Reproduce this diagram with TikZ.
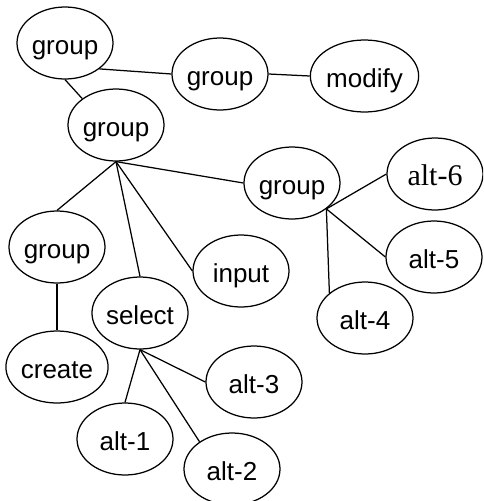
\documentclass[tikz,border=0pt]{standalone}
\usepackage{fontspec}
\setmainfont{Liberation Sans}
\newfontfamily\timesalt{Liberation Serif}
\usetikzlibrary{shapes.geometric}
\tikzset{
  oval/.style={ellipse, draw, line width=1.25pt, minimum width=96pt, minimum height=72pt,
    inner sep=0pt, text height=28pt, text depth=6pt,
    font=\fontsize{26}{30}\selectfont},
  ovalserif/.style={oval, font=\timesalt\fontsize{30}{34}\selectfont},
  link/.style={line width=1.25pt}
}
\begin{document}
\begin{tikzpicture}[x=1pt,y=-1pt]
  \useasboundingbox (0,0) rectangle (483,501);
  \clip (0,0) rectangle (483,501);
  % nodes
  \node[oval] (g1)  at (65,43)    {group};
  \node[oval] (g2)  at (220,74)   {group};
  \node[oval, minimum width=97pt] (mod) at (364.5,76) {modify};
  \node[oval] (g3)  at (116,125)  {group};
  \node[oval] (g4)  at (292,183)  {group};
  \node[ovalserif] (a6) at (435,174) {alt-6};
  \node[oval] (a5)  at (434,257)  {alt-5};
  \node[oval] (a4)  at (365,318)  {alt-4};
  \node[oval] (g5)  at (57,247)   {group};
  \node[oval] (cr)  at (57,367)   {create};
  \node[oval] (sel) at (140,313)  {select};
  \node[oval] (inp) at (241,271)  {input};
  \node[oval] (a3)  at (254,382)  {alt-3};
  \node[oval] (a1)  at (125,439)  {alt-1};
  \node[oval] (a2)  at (232,469)  {alt-2};
  % connectors
  \draw[link] (g1.-37) -- (g2.west);
  \draw[link] (g2.east) -- (mod.west);
  \draw[link] (g1.south) -- (g3.142);
  \draw[link] (g3.south) -- (g4.west);
  \draw[link] (g3.south) -- (g5.north);
  \draw[link] (g3.south) -- (sel.north);
  \draw[link] (g3.south) -- (inp.west);
  \draw[link] (g5.south) -- (cr.north);
  \draw[link] (g4.-37) -- (a6.west);
  \draw[link] (g4.-37) -- (a5.west);
  \draw[link] (g4.-37) -- (a4.145);
  \draw[link] (sel.south) -- (a1.north);
  \draw[link] (sel.south) -- (a2.140);
  \draw[link] (sel.south) -- (a3.west);
\end{tikzpicture}
\end{document}
